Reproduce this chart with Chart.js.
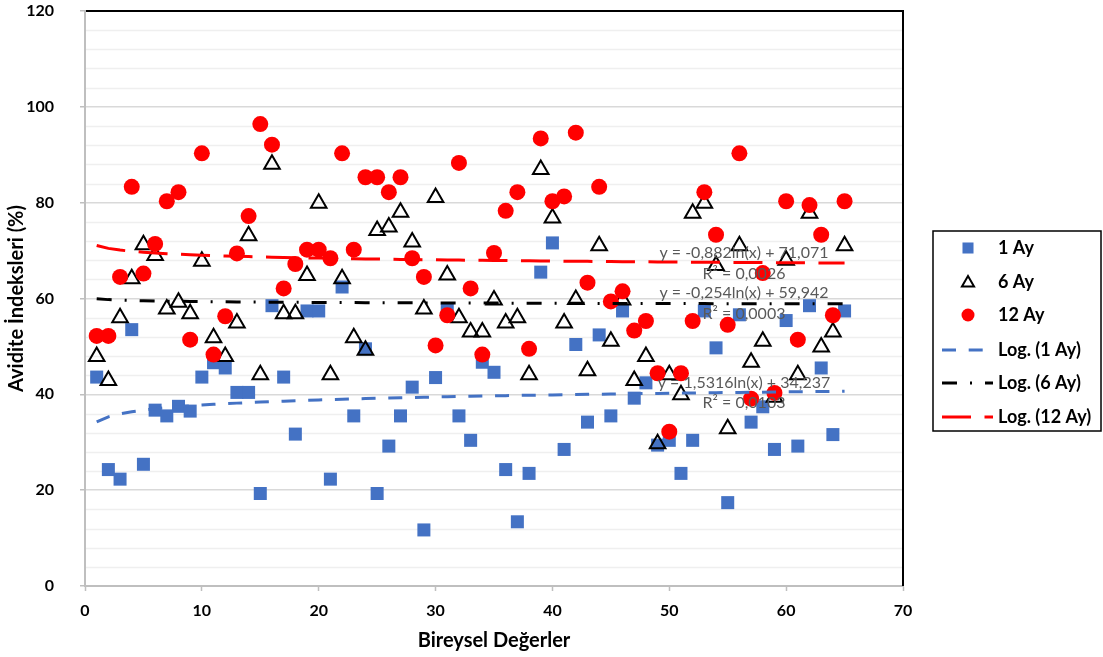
<!DOCTYPE html>
<html><head><meta charset="utf-8">
<script src="https://cdn.jsdelivr.net/npm/chart.js@4.4.0/dist/chart.umd.min.js"></script>
<style>html,body{margin:0;padding:0;background:#fff;} canvas{display:block;}</style>
</head><body>
<canvas id="c" width="1103" height="657"></canvas>
<script>
const subjects = [1,2,3,4,5,6,7,8,9,10,11,12,13,14,15,16,17,18,19,20,21,22,23,24,25,26,27,28,29,30,31,32,33,34,35,36,37,38,39,40,41,42,43,44,45,46,47,48,49,50,51,52,53,54,55,56,57,58,59,60,61,62,63,64,65];
const ay1 = [43.6,24.3,22.3,53.5,25.4,36.7,35.5,37.5,36.5,43.6, 46.6,45.5,40.4,40.4,19.3,58.5,43.6,31.7,57.4,57.4, 22.3,62.4,35.5,49.5,19.3,29.2,35.5,41.5,11.7,43.5, 57.5,35.5,30.4,46.7,44.6,24.3,13.4,23.5,65.5,71.6, 28.5,50.4,34.2,52.4,35.5,57.4,39.2,42.4,29.4,30.4, 23.5,30.4,57.4,49.7,17.4,56.6,34.2,37.4,28.5,55.4, 29.2,58.5,45.5,31.6,57.4];
const ay6 = [47.9,42.9,56.0,64.1,71.2,69.0,57.8,59.2,56.8,67.8, 51.8,47.9,54.9,73.1,44.1,88.0,56.8,56.8,64.8,79.9, 44.1,64.1,51.8,49.2,74.2,74.9,78.0,71.8,57.8,81.1, 64.9,56.0,53.0,53.0,59.7,54.9,56.0,44.1,86.9,76.8, 54.9,59.8,44.9,71.0,51.1,59.7,42.9,47.9,29.7,44.1, 39.9,77.8,79.9,66.9,32.8,71.0,46.7,51.1,39.4,68.0, 44.1,77.8,49.9,53.0,71.0];
const ay12 = [52.2,52.2,64.5,83.3,65.2,71.4,80.3,82.2,51.4,90.3, 48.3,56.3,69.4,77.2,96.4,92.1,62.1,67.2,70.2,70.2, 68.4,90.3,70.2,85.3,85.3,82.2,85.3,68.4,64.5,50.2, 56.5,88.3,62.1,48.3,69.5,78.3,82.2,49.5,93.4,80.3, 81.3,94.6,63.3,83.3,59.4,61.5,53.3,55.3,44.4,32.2, 44.4,55.3,82.2,73.3,54.5,90.3,39.1,65.3,40.3,80.3, 51.4,79.5,73.3,56.5,80.3];
const seriesNames = ['1 Ay', '6 Ay', '12 Ay'];
const trendNames = ['Log. (1 Ay)', 'Log. (6 Ay)', 'Log. (12 Ay)'];
const trendA = [1.5316, -0.254, -0.882];
const trendB = [34.237, 59.942, 71.071];
const trendEquations = ['y = 1,5316ln(x) + 34,237', 'y = -0,254ln(x) + 59,942', 'y = -0,882ln(x) + 71,071'];
const trendR2 = ['R² = 0,0103', 'R² = 0,0003', 'R² = 0,0026'];
const xTickValues = [0, 10, 20, 30, 40, 50, 60, 70];
const yTickValues = [0, 20, 40, 60, 80, 100, 120];
const xTitle = 'Bireysel Değerler';
const yTitle = 'Avidite İndeksleri (%)';

const FONT = "Lato, 'Open Sans', sans-serif";
Chart.defaults.font.family = FONT;
Chart.defaults.color = '#000';

const toPts = (ys) => subjects.map((x, i) => ({x: x, y: ys[i]}));
const trendPts = (k) => subjects.map(x => ({x: x, y: trendA[k] * Math.log(x) + trendB[k]}));

const BLUE = '#4472C4', RED = '#FF0000', BLACK = '#000000';
const dashes = [[14, 12.7], [15, 13, 2, 13], [29, 13.5]];
const lineColors = [BLUE, BLACK, RED];

const minorGrid = {
  id: 'minorGrid',
  beforeDatasetsDraw(chart) {
    const {ctx, chartArea, scales} = chart;
    const y = scales.y;
    ctx.save();
    ctx.strokeStyle = '#efefef';
    ctx.lineWidth = 1.5;
    for (let v = y.min + 4; v < y.max; v += 4) {
      if (v % 20 === 0) continue;
      const py = Math.round(y.getPixelForValue(v)) + 0.5;
      ctx.beginPath(); ctx.moveTo(chartArea.left + 1, py); ctx.lineTo(chartArea.right, py); ctx.stroke();
    }
    ctx.restore();
  }
};

const frameAndText = {
  id: 'frameAndText',
  afterDraw(chart) {
    const {ctx, chartArea} = chart;
    ctx.save();
    ctx.strokeStyle = '#000';
    ctx.lineWidth = 2;
    ctx.beginPath();
    ctx.moveTo(chartArea.left + 1, chartArea.top);
    ctx.lineTo(chartArea.right, chartArea.top);
    ctx.lineTo(chartArea.right, chartArea.bottom);
    ctx.stroke();

    ctx.fillStyle = '#595959';
    ctx.font = '16px ' + FONT;
    ctx.textAlign = 'center';
    ctx.textBaseline = 'middle';
    const cx = 744;
    const eqY = [383, 293, 253];
    const r2Y = [403, 314, 274];
    for (let k = 0; k < 3; k++) {
      ctx.fillText(trendEquations[k], cx, eqY[k]);
      ctx.fillText(trendR2[k], cx, r2Y[k]);
    }

    const bx = 933, by = 231, bw = 168, bh = 200;
    ctx.strokeStyle = '#000';
    ctx.lineWidth = 1.5;
    ctx.strokeRect(bx, by, bw, bh);
    const rows = [248, 282, 315, 350, 383, 417];
    const mx = 968, tx = 998;
    ctx.fillStyle = BLUE;
    Chart.helpers.drawPoint(ctx, {pointStyle: 'rect', radius: 7.8, borderWidth: 0, rotation: 0}, mx, rows[0]);
    ctx.fillStyle = 'rgba(0,0,0,0)';
    ctx.strokeStyle = '#000'; ctx.lineWidth = 2;
    Chart.helpers.drawPoint(ctx, {pointStyle: 'triangle', radius: 7, borderWidth: 2, rotation: 0}, mx, rows[1] + 1);
    ctx.fillStyle = RED;
    Chart.helpers.drawPoint(ctx, {pointStyle: 'circle', radius: 6.5, borderWidth: 0, rotation: 0}, mx, rows[2]);
    for (let k = 0; k < 3; k++) {
      ctx.save();
      ctx.strokeStyle = lineColors[k];
      ctx.lineWidth = 3;
      ctx.setLineDash(dashes[k]);
      ctx.beginPath(); ctx.moveTo(942, rows[3 + k]); ctx.lineTo(993, rows[3 + k]); ctx.stroke();
      ctx.restore();
    }
    ctx.font = 'bold 18px ' + FONT;
    ctx.textAlign = 'left';
    ctx.fillStyle = '#000';
    const labels = seriesNames.concat(trendNames);
    labels.forEach((t, i) => ctx.fillText(t, tx, rows[i]));
    ctx.restore();
  }
};

const markerDs = (name, ys, style, bg, border, bw, r, order) => ({
  label: name, data: toPts(ys), pointStyle: style, pointRadius: r, pointHoverRadius: r,
  backgroundColor: bg, borderColor: border, borderWidth: bw, pointBorderWidth: bw,
  showLine: false, order: order
});
const trendDs = (k) => ({
  label: trendNames[k], data: trendPts(k), showLine: true, pointRadius: 0, pointHoverRadius: 0,
  borderColor: lineColors[k], borderWidth: 3, borderDash: dashes[k], borderCapStyle: 'butt',
  fill: false, tension: 0, order: 0
});

new Chart(document.getElementById('c'), {
  type: 'scatter',
  data: {
    datasets: [
      markerDs(seriesNames[0], ay1, 'rect', BLUE, BLUE, 0, 9.2, 3),
      markerDs(seriesNames[1], ay6, 'triangle', 'rgba(0,0,0,0)', BLACK, 2, 9, 2),
      markerDs(seriesNames[2], ay12, 'circle', RED, RED, 0, 8, 1),
      trendDs(0), trendDs(1), trendDs(2)
    ]
  },
  options: {
    responsive: false,
    animation: false,
    devicePixelRatio: 1,
    layout: {padding: {left: 0, right: 200, top: 10, bottom: 0}},
    plugins: {legend: {display: false}, tooltip: {enabled: false}},
    scales: {
      x: {
        type: 'linear', min: 0, max: 70,
        afterBuildTicks: (s) => { s.ticks = xTickValues.map(v => ({value: v})); },
        afterFit: (s) => { s.height = 71; s.paddingLeft = 0; s.paddingRight = 0; },
        ticks: {font: {size: 16, weight: 'bold'}, color: '#000', padding: 10},
        grid: {drawOnChartArea: false, drawTicks: true, tickLength: 5, tickColor: '#bfbfbf', tickWidth: 1.5},
        border: {display: true, color: '#bfbfbf', width: 2},
        title: {display: true, text: xTitle, font: {size: 20, weight: 'bold'}, color: '#000', padding: {top: 2, bottom: 4}}
      },
      y: {
        type: 'linear', min: 0, max: 120,
        afterBuildTicks: (s) => { s.ticks = yTickValues.map(v => ({value: v})); },
        afterFit: (s) => { s.width = 85; s.paddingTop = 0; s.paddingBottom = 0; },
        ticks: {font: {size: 16, weight: 'bold'}, color: '#000', padding: 26},
        grid: {color: '#d9d9d9', lineWidth: 1.5, drawTicks: true, tickLength: 5, tickColor: '#bfbfbf', tickWidth: 1.5},
        border: {display: true, color: '#bfbfbf', width: 2},
        title: {display: true, text: yTitle, font: {size: 20, weight: 'bold'}, color: '#000', padding: {top: 5, bottom: 0}}
      }
    }
  },
  plugins: [minorGrid, frameAndText]
});
</script>
</body></html>
